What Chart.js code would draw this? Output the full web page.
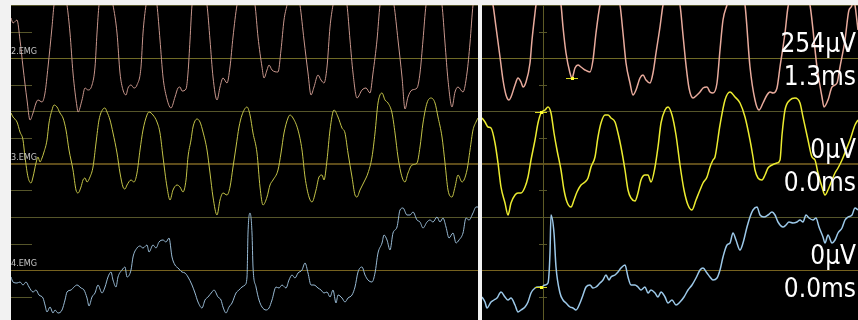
<!DOCTYPE html>
<html>
<head>
<meta charset="utf-8">
<script src="https://cdn.jsdelivr.net/npm/chart.js@4"></script>
<style>
html, body { margin: 0; padding: 0; width: 858px; height: 320px; overflow: hidden; background: #f2f2f2; }
canvas { position: absolute; top: 5px; }
#left { left: 11px; }
#right { left: 482px; }
</style>
</head>
<body>
<canvas id="left" width="467" height="318"></canvas>
<canvas id="right" width="376" height="318"></canvas>
<script>
const DIV = 106; // µV per division
const channels = ['2.EMG', '3.EMG', '4.EMG'];
const centers = [5, 3, 1]; // baseline of each channel, in divisions
const leftColors = ['#c8968c', '#c4c448', '#98bad4'];
const rightColors = ['#e8aa9c', '#ecec30', '#9cc8e8'];

// [ms, µV] pairs
const emg2Left = [[0,80],[2,70],[6,76],[9,36],[12,-18],[16,-84],[19,-124],[22,-110],[25,-90],[27,-84],[31,-88],[34,-70],[37,-18],[41,62],[43,106],[50,166],[56,106],[59,50],[62,-30],[66,-98],[67,-108],[71,-84],[74,-60],[77,-64],[81,-54],[84,-18],[86,50],[88,106],[95,166],[102,106],[106,50],[109,-30],[112,-64],[115,-74],[117,-60],[120,-54],[123,-60],[126,-54],[130,-18],[132,50],[135,106],[141,166],[146,106],[149,36],[152,-38],[155,-74],[160,-100],[164,-78],[167,-60],[169,-58],[171,-66],[175,-62],[177,-30],[179,36],[181,106],[188,166],[196,106],[199,36],[202,-38],[206,-84],[209,-58],[212,-40],[216,-50],[219,-18],[222,42],[226,106],[235,166],[244,106],[247,42],[251,-18],[253,-40],[256,-24],[258,-14],[261,-24],[267,-28],[270,16],[273,76],[276,106],[283,166],[289,106],[293,36],[297,-30],[300,-74],[303,-58],[307,-34],[310,-44],[313,-50],[316,-18],[319,62],[322,106],[329,166],[336,106],[339,36],[342,-30],[346,-80],[351,-64],[355,-60],[359,-70],[362,-30],[366,36],[369,106],[376,166],[383,106],[387,36],[391,-38],[394,-102],[397,-78],[401,-64],[406,-60],[409,-30],[412,36],[415,106],[423,166],[431,106],[434,30],[437,-44],[441,-98],[444,-68],[447,-58],[452,-68],[456,-30],[459,30],[462,106],[467,156]];
const emg3Left = [[0,102],[2,94],[6,84],[9,64],[12,48],[14,14],[17,-26],[20,-38],[22,-26],[25,2],[27,14],[29,4],[31,12],[33,24],[36,48],[38,82],[41,108],[43,118],[46,114],[49,102],[52,92],[55,68],[58,28],[62,-12],[65,-52],[67,-58],[70,-46],[72,-32],[74,-28],[76,-36],[79,-26],[82,-6],[85,42],[88,88],[92,110],[94,112],[96,104],[99,88],[102,62],[106,22],[109,-18],[112,-46],[114,-50],[116,-42],[120,-32],[123,-36],[126,-18],[129,28],[132,68],[136,98],[138,104],[142,98],[146,84],[149,62],[152,14],[156,-46],[159,-72],[162,-52],[166,-42],[169,-46],[172,-56],[175,-32],[177,14],[180,48],[182,74],[186,90],[189,84],[192,64],[196,28],[199,-18],[202,-66],[206,-102],[209,-72],[212,-58],[216,-62],[219,-46],[222,-6],[225,34],[228,74],[231,98],[236,114],[239,98],[242,62],[246,22],[249,-46],[252,-82],[256,-66],[259,-42],[262,-32],[267,-12],[270,22],[273,62],[277,92],[279,98],[282,92],[287,68],[291,28],[294,-26],[298,-66],[301,-76],[305,-52],[308,-26],[311,-22],[313,-32],[316,8],[319,68],[323,108],[327,94],[331,72],[334,62],[337,22],[341,-26],[344,-62],[346,-66],[349,-52],[353,-36],[357,-18],[361,14],[364,62],[367,122],[371,142],[374,128],[377,122],[381,102],[384,62],[387,14],[391,-26],[394,-36],[397,-18],[401,-2],[406,2],[409,34],[412,82],[416,122],[420,132],[424,122],[427,94],[431,54],[434,2],[437,-52],[441,-66],[444,-46],[447,-22],[451,-36],[456,-12],[459,28],[462,68],[465,84],[467,92]];
const emg4Left = [[0,-14],[2,-24],[6,-26],[9,-24],[12,-30],[15,-24],[18,-34],[22,-44],[25,-40],[28,-50],[32,-56],[34,-70],[36,-84],[39,-74],[42,-86],[44,-80],[47,-86],[51,-80],[54,-60],[56,-44],[60,-40],[63,-34],[66,-30],[70,-36],[73,-40],[76,-56],[78,-72],[81,-54],[84,-46],[87,-30],[91,-46],[94,-34],[97,-14],[100,-4],[102,-20],[105,-34],[107,-14],[111,0],[114,6],[116,-14],[120,0],[122,26],[126,44],[129,48],[132,44],[136,50],[138,36],[142,50],[145,44],[148,56],[152,60],[155,56],[158,64],[161,26],[164,10],[167,4],[171,-4],[174,-6],[177,-14],[181,-30],[184,-46],[187,-64],[191,-76],[194,-60],[197,-54],[201,-44],[203,-40],[207,-54],[210,-60],[212,-74],[215,-86],[218,-74],[221,-66],[225,-46],[228,-40],[231,-34],[234,-30],[236,-14],[237,74],[239,114],[241,74],[242,6],[245,-34],[248,-60],[251,-74],[255,-80],[258,-76],[261,-60],[265,-34],[268,-36],[271,-30],[275,-36],[278,-20],[281,-10],[284,-16],[287,-6],[291,0],[294,14],[297,-6],[300,-30],[303,-30],[307,-36],[310,-40],[313,-46],[316,-44],[319,-54],[322,-40],[325,-66],[327,-50],[331,-56],[334,-64],[337,-56],[341,-50],[344,-34],[347,-4],[351,6],[354,-10],[357,-20],[361,-24],[364,-6],[367,34],[371,54],[373,70],[376,60],[379,40],[382,74],[386,86],[389,120],[392,124],[396,110],[399,110],[402,116],[406,100],[409,96],[412,84],[416,96],[419,100],[422,96],[426,106],[429,96],[432,104],[435,86],[438,64],[442,74],[445,54],[448,60],[452,74],[455,104],[458,100],[462,114],[465,126],[467,126]];

const emg2Right = [[0,180],[11,106],[14,62],[18,2],[21,-44],[24,-74],[27,-84],[29,-78],[33,-54],[36,-40],[39,-48],[41,-58],[44,-48],[48,-10],[50,36],[53,90],[54,106],[66,170],[79,106],[81,62],[84,10],[88,-30],[90,-40],[93,-20],[96,-14],[99,-18],[103,-24],[108,-28],[111,-4],[114,50],[118,106],[128,160],[138,106],[141,50],[144,-10],[148,-50],[151,-74],[154,-64],[158,-40],[161,-34],[164,-44],[168,-50],[171,-30],[174,10],[178,62],[181,106],[189,160],[198,106],[201,46],[204,-14],[207,-60],[211,-80],[215,-74],[218,-68],[221,-60],[225,-58],[228,-68],[231,-70],[235,-50],[238,16],[241,76],[245,106],[254,166],[263,106],[268,-18],[273,-84],[277,-104],[281,-90],[285,-74],[288,-68],[291,-70],[295,-60],[298,-18],[303,50],[306,102],[317,166],[328,106],[335,-18],[340,-78],[342,-98],[346,-84],[350,-58],[355,-50],[358,-18],[363,36],[367,96],[370,106],[371,126],[373,106],[376,56]];
const emg3Right = [[0,92],[3,84],[6,74],[9,72],[13,42],[16,2],[19,-46],[23,-78],[26,-102],[29,-78],[33,-62],[36,-58],[39,-58],[43,-46],[46,-26],[49,8],[53,48],[56,82],[59,102],[63,108],[66,114],[69,102],[72,62],[75,28],[79,-12],[82,-52],[85,-76],[89,-86],[92,-72],[95,-56],[99,-42],[103,-36],[106,-28],[109,-6],[113,14],[116,54],[119,82],[123,98],[126,98],[129,92],[133,84],[136,62],[139,34],[143,-12],[146,-52],[149,-68],[153,-74],[156,-58],[159,-32],[163,-22],[166,-22],[169,-36],[173,-6],[176,34],[179,82],[183,108],[186,114],[190,98],[194,58],[198,-2],[202,-52],[206,-82],[210,-92],[214,-72],[218,-52],[221,-38],[225,-26],[228,-6],[231,8],[233,14],[238,78],[243,128],[248,144],[253,134],[258,122],[263,94],[268,48],[271,14],[273,-12],[276,-28],[280,-32],[283,-22],[286,-8],[290,-2],[295,2],[298,8],[300,58],[303,108],[308,128],[313,132],[318,122],[321,94],[326,48],[330,14],[333,8],[336,-18],[340,-46],[343,-62],[346,-52],[350,-32],[353,-18],[356,-8],[360,8],[364,28],[368,48],[373,78],[376,88]];
const emg4Right = [[0,-54],[3,-64],[5,-76],[9,-64],[12,-60],[15,-56],[19,-44],[23,-54],[26,-60],[29,-56],[33,-70],[36,-84],[39,-80],[43,-74],[46,-64],[49,-46],[53,-36],[56,-34],[59,-34],[63,-30],[66,-26],[68,34],[69,110],[72,74],[74,6],[78,-46],[81,-60],[84,-66],[88,-74],[91,-76],[94,-80],[98,-66],[101,-50],[104,-34],[108,-30],[111,-36],[114,-34],[118,-26],[121,-20],[124,-10],[127,-20],[129,-14],[133,-10],[136,-4],[139,4],[143,10],[146,-14],[149,-30],[153,-30],[156,-34],[159,-40],[163,-34],[166,-46],[169,-40],[173,-46],[176,-54],[179,-44],[183,-54],[186,-66],[190,-60],[194,-70],[198,-64],[202,-54],[206,-40],[210,-30],[214,-16],[218,0],[221,4],[225,-6],[228,-14],[231,-20],[235,-16],[238,0],[241,26],[245,50],[248,54],[251,74],[254,60],[258,40],[261,54],[265,86],[268,106],[271,120],[275,126],[278,110],[282,106],[286,110],[290,116],[293,110],[296,96],[301,86],[304,90],[307,96],[311,94],[315,96],[318,100],[321,96],[324,110],[327,104],[331,100],[334,104],[337,86],[341,66],[343,54],[346,70],[350,54],[353,60],[356,74],[360,84],[363,100],[366,106],[370,110],[373,124],[376,120]];

const cursorT = 61;
const markers = [[90, -40], [59, 104], [59, -34]];
const readouts = [['254µV', '1.3ms'], ['0µV', '0.0ms'], ['0µV', '0.0ms']];

const centerStyles = [['#6f6a26', 1], ['#5e4c1a', 2], ['#76621f', 1]];
const edgeColor = '#56552a';

function hline(ctx, yPix, x0, x1, color, w) {
  const yy = w % 2 ? Math.round(yPix) + 0.5 : Math.round(yPix);
  ctx.strokeStyle = color;
  ctx.lineWidth = w;
  ctx.beginPath();
  ctx.moveTo(x0, yy);
  ctx.lineTo(x1, yy);
  ctx.stroke();
}

function screenPlugin(side) {
  return {
    id: 'screen',
    beforeDraw(chart) {
      const { ctx } = chart;
      ctx.save();
      ctx.fillStyle = '#000';
      ctx.fillRect(0, 0, chart.width, chart.height);
      ctx.restore();
    },
    beforeDatasetsDraw(chart) {
      const { ctx, chartArea: a, scales: { x, y } } = chart;
      ctx.save();
      for (let k = 0; k <= 6; k += 2) hline(ctx, y.getPixelForValue(k * DIV), a.left, a.right, edgeColor, 1);
      centers.forEach((c, i) => hline(ctx, y.getPixelForValue(c * DIV), a.left, a.right, centerStyles[i][0], centerStyles[i][1]));
      for (let k = 0; k < 6; k++) {
        const py = y.getPixelForValue((k + 0.5) * DIV);
        if (side === 'left') hline(ctx, py, a.left, a.left + 21, edgeColor, 1);
        else {
          const cx = x.getPixelForValue(cursorT);
          hline(ctx, py, cx - 4, cx + 4, edgeColor, 1);
        }
      }
      if (side === 'right') {
        const cx = Math.round(x.getPixelForValue(cursorT)) + 0.5;
        ctx.strokeStyle = '#5e5b26';
        ctx.lineWidth = 1;
        ctx.beginPath();
        ctx.moveTo(cx, a.top);
        ctx.lineTo(cx, a.bottom);
        ctx.stroke();
      }
      ctx.restore();
    },
    afterDatasetsDraw(chart) {
      const { ctx, chartArea: a, scales: { x, y } } = chart;
      ctx.save();
      if (side === 'left') {
        ctx.font = '9px "DejaVu Sans Condensed", "DejaVu Sans"';
        ctx.fillStyle = '#c4c4c4';
        ctx.textBaseline = 'alphabetic';
        channels.forEach((name, i) => ctx.fillText(name, a.left, y.getPixelForValue(centers[i] * DIV) - 4));
      } else {
        markers.forEach(([t, v], i) => {
          const px = x.getPixelForValue(t);
          const py = Math.round(y.getPixelForValue(v + centers[i] * DIV));
          hline(ctx, py, px - 6, px + 6, '#d8d820', 1);
          ctx.fillStyle = '#ffff30';
          ctx.fillRect(Math.round(px) - 1, py - 1, 3, 3);
        });
        ctx.font = '26px "DejaVu Sans Condensed", "DejaVu Sans"';
        ctx.fillStyle = '#ffffff';
        ctx.textAlign = 'right';
        readouts.forEach(([amp, lat], i) => {
          const cy = y.getPixelForValue(centers[i] * DIV);
          ctx.fillText(amp, a.right - 2, cy - 6);
          ctx.fillText(lat, a.right - 2, cy + 27);
        });
      }
      ctx.restore();
    }
  };
}

function makePanel(id, traces, colors, span, width, side) {
  return new Chart(document.getElementById(id), {
    type: 'line',
    data: {
      datasets: traces.map((tr, i) => ({
        label: channels[i],
        data: tr.map(([t, v]) => ({ x: t, y: v + centers[i] * DIV })),
        borderColor: colors[i],
        borderWidth: width,
        pointRadius: 0,
        cubicInterpolationMode: 'monotone',
        fill: false
      }))
    },
    options: {
      responsive: false,
      animation: false,
      devicePixelRatio: 1,
      events: [],
      layout: { padding: 0 },
      plugins: { legend: { display: false }, tooltip: { enabled: false } },
      scales: {
        x: { type: 'linear', min: 0, max: span, display: false },
        y: { min: 0, max: 6 * DIV, display: false }
      }
    },
    plugins: [screenPlugin(side)]
  });
}

makePanel('left', [emg2Left, emg3Left, emg4Left], leftColors, 467, 1, 'left');
makePanel('right', [emg2Right, emg3Right, emg4Right], rightColors, 376, 1.5, 'right');
</script>
</body>
</html>
